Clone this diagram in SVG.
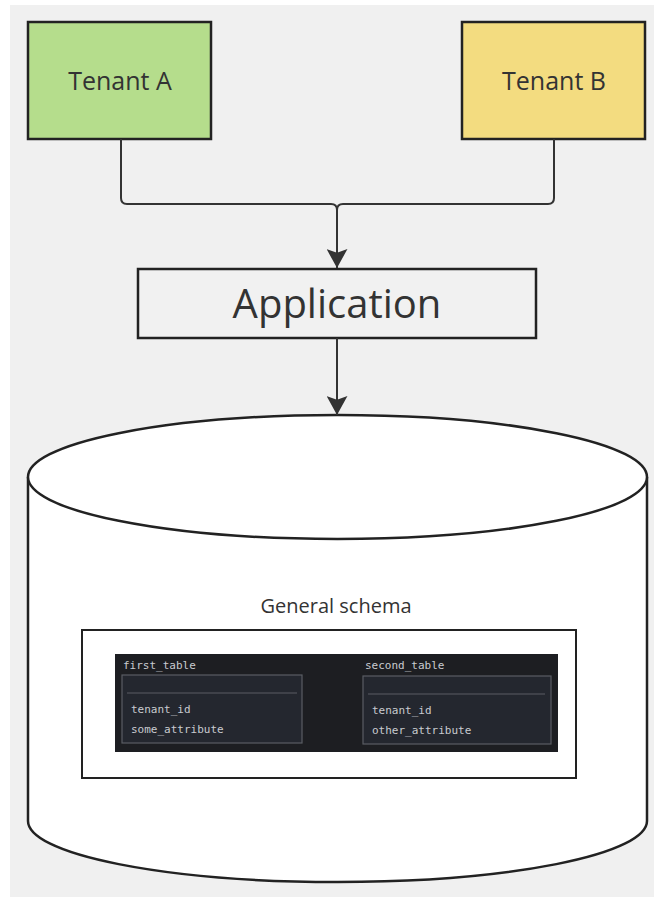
<svg xmlns="http://www.w3.org/2000/svg" width="654" height="897" viewBox="0 0 654 897">
  <style>
    .box { stroke: #222; stroke-width: 2.5; }
    .label { font-family: "Open Sans", "Noto Sans", sans-serif; fill: #333; text-anchor: middle; }
    .edge { fill: none; stroke: #333; stroke-width: 2; }
    .mono { font-family: "DejaVu Sans Mono", "Liberation Mono", monospace; font-size: 11px; fill: #c9cbd0; }
    .tbl { fill: #24272f; stroke: #5a5d64; stroke-width: 1.2; }
    .sep { stroke: #5a5d64; stroke-width: 1; }
  </style>
  <defs>
    <marker id="arrow" viewBox="0 0 20 22" refX="20" refY="11" markerWidth="19" markerHeight="21" markerUnits="userSpaceOnUse" orient="auto">
      <path d="M0,0 L20,11 L0,22 L4,11 z" fill="#333"/>
    </marker>
  </defs>

  <!-- canvas -->
  <rect x="10" y="5" width="644" height="892" fill="#f0f0f0"/>

  <g id="tenant-a">
    <rect class="box" x="28" y="22" width="183" height="117" fill="#b5dd8c"/>
    <text class="label" x="120" y="90" font-size="25">Tenant A</text>
  </g>

  <g id="tenant-b">
    <rect class="box" x="462" y="22" width="183" height="117" fill="#f3dc80"/>
    <text class="label" x="554" y="90" font-size="25">Tenant B</text>
  </g>

  <g id="application">
    <rect class="box" x="138" y="269" width="398" height="69" fill="#f1f1f1"/>
    <text class="label" x="337" y="318" font-size="40">Application</text>
  </g>

  <g id="database">
    <path d="M28,477 V821 A309.5,61 0 0 0 647,821 V477" fill="#fff" stroke="#222" stroke-width="2.5"/>
    <ellipse cx="337.5" cy="477" rx="309.5" ry="62" fill="#fff" stroke="#222" stroke-width="2.5"/>
    <text class="label" x="336" y="613" font-size="20">General schema</text>
    <rect x="82" y="630" width="494" height="148" fill="#fff" stroke="#222" stroke-width="2"/>

    <!-- dark table panel -->
    <rect x="115" y="654" width="443" height="98" fill="#1d1e22"/>
    <g id="first-table">
      <text class="mono" x="123" y="669">first_table</text>
      <rect class="tbl" x="122" y="675" width="180" height="68"/>
      <line class="sep" x1="127" y1="693" x2="297" y2="693"/>
      <text class="mono" x="131" y="713">tenant_id</text>
      <text class="mono" x="131" y="733">some_attribute</text>
    </g>
    <g id="second-table">
      <text class="mono" x="365" y="669">second_table</text>
      <rect class="tbl" x="363" y="676" width="188" height="68"/>
      <line class="sep" x1="368" y1="694" x2="545" y2="694"/>
      <text class="mono" x="372" y="714">tenant_id</text>
      <text class="mono" x="372" y="734">other_attribute</text>
    </g>
  </g>

  <g id="connectors">
    <path class="edge" d="M121,139 V198 Q121,204 127,204 H331 Q337,204 337,210"/>
    <path class="edge" d="M554,139 V198 Q554,204 548,204 H343 Q337,204 337,210"/>
    <path class="edge" d="M337,210 V268" marker-end="url(#arrow)"/>
    <path class="edge" d="M337,338 V415" marker-end="url(#arrow)"/>
  </g>
</svg>
